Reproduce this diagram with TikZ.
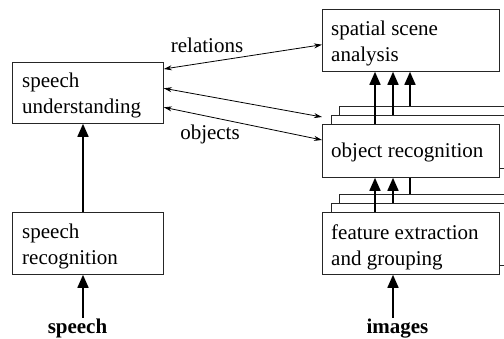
\documentclass[tikz,border=0pt]{standalone}
\usepackage{fontspec}
\setmainfont{Liberation Serif}
\usetikzlibrary{arrows.meta,calc,backgrounds}
\begin{document}
\begin{tikzpicture}[x=1pt,y=-1pt,
  font=\fontsize{21}{26}\selectfont,
  box/.style={draw=black!85, fill=white, line width=0.8pt, inner sep=0pt,
    anchor=north west, minimum width=177pt},
  lbox/.style={box, minimum width=151pt},
  txt/.style={inner sep=0pt, anchor=base west, align=left},
  bigarrow/.style={line width=1.6pt, -{Triangle[length=13pt,width=11pt]}},
  link/.style={line width=0.8pt, {Stealth[length=8pt,width=5pt]}-{Stealth[length=8pt,width=5pt]}}]
\useasboundingbox (0,0) rectangle (504,339);
\clip (0,0) rectangle (504,339);

% feature extraction stack (kept underneath its outgoing arrows)
\begin{pgfonlayer}{background}
\node[box, minimum height=62pt] (feat2) at (339,194) {};
\node[box, minimum height=62pt] (feat1) at (331,203) {};
\node[box, minimum height=62pt] (feat) at (322,212) {};
\end{pgfonlayer}

% object recognition stack
\node[box, minimum height=53pt] (orec2) at (339,106) {};
\node[box, minimum height=53pt] (orec1) at (331,115) {};
\node[box, minimum height=53pt] (orec) at (322,124) {};

% other modules
\node[box, minimum height=62pt] (ssa) at (322,9) {};
\node[lbox, minimum height=61pt] (su) at (12,62) {};
\node[lbox, minimum height=62pt] (sr) at (12,212) {};

% module texts
\node[txt] (ssa-t) at ($(ssa.north west)+(9,53)$) {spatial scene\\analysis};
\node[txt] (orec-t) at ($(orec.north west)+(9,34)$) {object recognition};
\node[txt] (feat-t) at ($(feat.north west)+(9,54)$) {feature extraction\\and grouping};
\node[txt] (su-t) at ($(su.north west)+(10,52)$) {speech\\understanding};
\node[txt] (sr-t) at ($(sr.north west)+(10,53)$) {speech\\recognition};

% inputs
\node[inner sep=0pt, anchor=base, font=\fontsize{21}{26}\selectfont\bfseries] (speechin) at (77.5,334) {speech};
\node[inner sep=0pt, anchor=base, font=\fontsize{21}{26}\selectfont\bfseries] (imagesin) at (397.5,334) {images};
\coordinate (speechsrc) at (83,318);
\coordinate (imagesrc) at (393,318);

\draw[bigarrow] (speechsrc) -- (speechsrc |- sr.south);
\draw[bigarrow] (imagesrc) -- (imagesrc |- feat.south);
\draw[bigarrow] ($(sr.north west)+(71,0)$) -- ($(su.south west)+(71,0)$);

% feature extraction -> object recognition
\begin{pgfonlayer}{background}
\draw[bigarrow] ($(feat.north west)+(53,0)$) -- ($(orec.south west)+(53,0)$);
\draw[bigarrow] ($(feat1.north west)+(62,0)$) -- ($(orec.south west)+(71,0)$);
\draw[bigarrow] ($(feat2.north west)+(71,0)$) -- ($(orec2.south west)+(71,0)$);
\end{pgfonlayer}

% object recognition -> spatial scene analysis
\draw[bigarrow] ($(orec.north west)+(53,0)$) -- ($(ssa.south west)+(53,0)$);
\draw[bigarrow] ($(orec1.north west)+(62,0)$) -- ($(ssa.south west)+(71,0)$);
\draw[bigarrow] ($(orec2.north west)+(71,0)$) -- ($(ssa.south west)+(88,0)$);

% links to speech understanding
\draw[link] ($(su.north east)+(0,7)$) -- ($(ssa.north west)+(0,35.7)$);
\draw[link] ($(su.north east)+(0,26.3)$) -- ($(orec.north west)+(0,-7)$);
\draw[link] ($(su.north east)+(0,45.3)$) -- ($(orec.north west)+(0,16)$);
\node[inner sep=0pt, anchor=base] (rel) at (207,53) {relations};
\node[inner sep=0pt, anchor=base] (obj) at (210,140) {objects};
\end{tikzpicture}
\end{document}
